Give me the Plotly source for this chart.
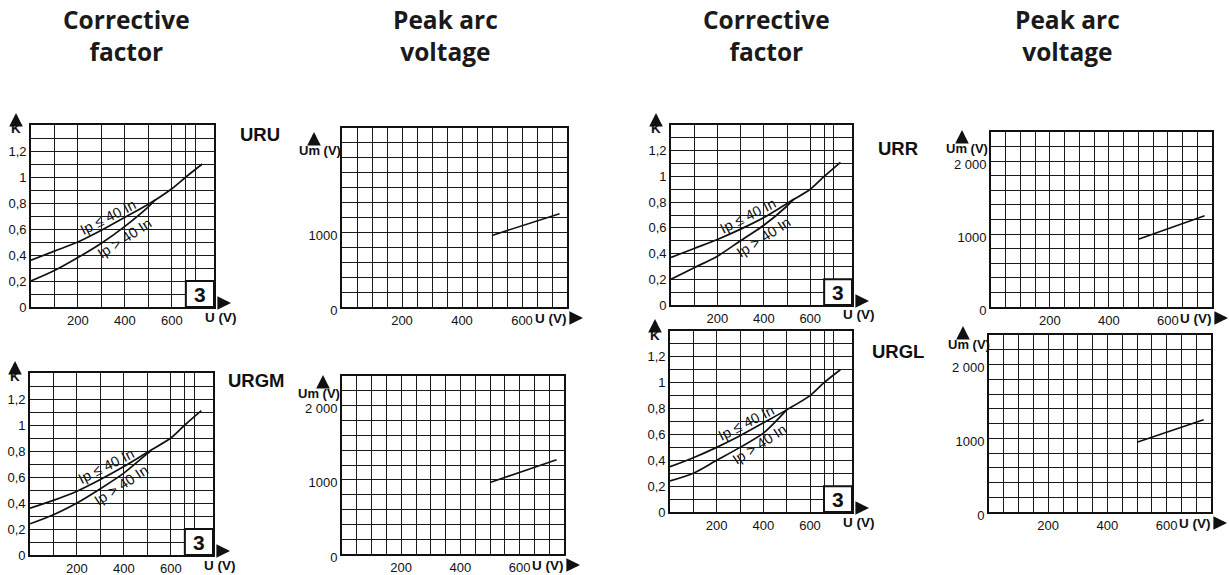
import plotly.graph_objects as go

W, H = 1229, 575

# ---------------- data ----------------
# Corrective factor K versus U (V)
k_u_le = [0, 100, 200, 300, 400, 500, 600, 660, 730]

uru_k_le = [0.36, 0.43, 0.50, 0.59, 0.69, 0.79, 0.91, 1.00, 1.10]
uru_u_gt = [0, 100, 200, 300, 400, 500, 530]
uru_k_gt = [0.20, 0.28, 0.38, 0.49, 0.62, 0.77, 0.825]

urgm_k_le = [0.36, 0.42, 0.49, 0.58, 0.68, 0.79, 0.90, 1.00, 1.11]
urgm_u_gt = [0, 100, 200, 300, 400, 500, 515]
urgm_k_gt = [0.24, 0.31, 0.40, 0.51, 0.63, 0.78, 0.80]

urr_k_le = [0.37, 0.44, 0.51, 0.59, 0.68, 0.79, 0.90, 1.00, 1.11]
urr_u_gt = [0, 100, 200, 300, 400, 500, 530]
urr_k_gt = [0.20, 0.29, 0.38, 0.50, 0.62, 0.77, 0.825]

urgl_k_le = [0.35, 0.42, 0.50, 0.59, 0.69, 0.79, 0.90, 1.00, 1.10]
urgl_u_gt = [0, 100, 200, 300, 400, 500]
urgl_k_gt = [0.24, 0.30, 0.40, 0.50, 0.61, 0.79]

# Peak arc voltage Um (V) versus U (V)
um_u = [500, 725]
uru_um = [960, 1250]
urgm_um = [965, 1270]
urr_um = [930, 1250]
urgl_um = [945, 1250]

# tick labels
k_tickvals = [0, 0.1, 0.2, 0.3, 0.4, 0.5, 0.6, 0.7, 0.8, 0.9, 1.0, 1.1, 1.2, 1.3]
k_ticktext = ["0", "", "0,2", "", "0,4", "", "0,6", "", "0,8", "", "1", "", "1,2", ""]
ku_tickvals = [0, 100, 200, 300, 400, 500, 600, 660, 700]
ku_ticktext = ["", "", "200", "", "400", "", "600", "", ""]
box_u = [660, 780]
box_k = [0, 0.2]
box_label = "3"

umx_tickvals = [0, 50, 100, 150, 200, 250, 300, 350, 400, 450, 500, 550, 600, 650, 700]
umx_ticktext = ["", "", "", "", "200", "", "", "", "400", "", "", "", "600", "", ""]
umy_tickvals = [0, 200, 400, 600, 800, 1000, 1200, 1400, 1600, 1800, 2000, 2200]
umy_ticktext_full = ["0", "", "", "", "", "1000", "", "", "", "", "2 000", ""]
umy_ticktext_short = ["0", "", "", "", "", "1000", "", "", "", "", "", ""]

label_le = "Ip ≤ 40 In"
label_gt = "Ip > 40 In"

# ---------------- layout helpers ----------------
def fx(p):
    return p / W


def fy(p):
    return 1 - p / H


GRID = "#1a1a1a"
TICKFONT = dict(family="Liberation Sans, Arial, sans-serif", size=13, color="#111")
BOLD = dict(family="Liberation Sans, Arial, sans-serif", size=13.5, color="#111", weight="bold")

fig = go.Figure()
annotations = []
shapes = []


def axis_common(domain, rng, tv, tt):
    return dict(
        domain=domain, range=rng, tickmode="array", tickvals=tv, ticktext=tt,
        showgrid=True, gridcolor=GRID, gridwidth=1.3, zeroline=False,
        showline=True, mirror=True, linecolor="#111", linewidth=1.8,
        ticks="", tickfont=TICKFONT, fixedrange=True, automargin=False,
    )


def up_arrow(x, y):
    annotations.append(dict(
        xref="paper", yref="paper", x=fx(x), y=fy(y - 4), ax=0, ay=9,
        text="", showarrow=True,
        arrowhead=2, arrowsize=0.8, arrowwidth=3.4, arrowcolor="#111"))


def right_arrow(x, y):
    annotations.append(dict(
        xref="paper", yref="paper", x=fx(x + 5), y=fy(y), ax=-9, ay=0,
        text="", showarrow=True,
        arrowhead=2, arrowsize=0.8, arrowwidth=3.4, arrowcolor="#111"))


def text(x, y, s, font, **kw):
    annotations.append(dict(xref="paper", yref="paper", x=fx(x), y=fy(y), text=s,
                            xanchor="center", yanchor="middle",
                            showarrow=False, font=font, **kw))


k_panels = [
    dict(name="URU", box=(31, 214, 125, 307), le=uru_k_le, ugt=uru_u_gt, kgt=uru_k_gt,
         lab=(260, 134), lpos_le=(330, 0.69), lpos_gt=(400, 0.53)),
    dict(name="URGM", box=(30, 213, 373, 555), le=urgm_k_le, ugt=urgm_u_gt, kgt=urgm_k_gt,
         lab=(256, 380), lpos_le=(325, 0.685), lpos_gt=(390, 0.535)),
    dict(name="URR", box=(671, 852, 125, 305), le=urr_k_le, ugt=urr_u_gt, kgt=urr_k_gt,
         lab=(898, 148), lpos_le=(330, 0.69), lpos_gt=(400, 0.53)),
    dict(name="URGL", box=(670, 852, 331, 512), le=urgl_k_le, ugt=urgl_u_gt, kgt=urgl_k_gt,
         lab=(898, 351), lpos_le=(325, 0.69), lpos_gt=(385, 0.525)),
]

um_panels = [
    dict(box=(342, 567, 128, 307), um=uru_um, tt=umy_ticktext_short, arrow=(314, 136), lab=(320, 150)),
    dict(box=(342, 564, 376, 554), um=urgm_um, tt=umy_ticktext_full, arrow=(323, 379), lab=(319, 393)),
    dict(box=(991, 1212, 132, 307), um=urr_um, tt=umy_ticktext_full, arrow=(962, 134), lab=(967, 148)),
    dict(box=(989, 1211, 335, 512), um=urgl_um, tt=umy_ticktext_full, arrow=(963, 330), lab=(969, 344)),
]

layout_axes = {}
n = 0
for p in k_panels:
    n += 1
    xs, ys = ("x" if n == 1 else f"x{n}"), ("y" if n == 1 else f"y{n}")
    l, r, t, b = p["box"]
    xa = axis_common([fx(l), fx(r)], [0, 780], ku_tickvals, ku_ticktext)
    ya = axis_common([fy(b), fy(t)], [0, 1.4], k_tickvals, k_ticktext)
    xa["anchor"] = ys
    ya["anchor"] = xs
    layout_axes["xaxis" if n == 1 else f"xaxis{n}"] = xa
    layout_axes["yaxis" if n == 1 else f"yaxis{n}"] = ya
    for ux, ky in ((k_u_le, p["le"]), (p["ugt"], p["kgt"])):
        fig.add_trace(go.Scatter(x=ux, y=ky, mode="lines", xaxis=xs, yaxis=ys,
                                 line=dict(color="#111", width=1.7, shape="spline", smoothing=0.8),
                                 showlegend=False, hoverinfo="skip"))
    shapes.append(dict(type="rect", xref=xs, yref=ys, x0=box_u[0], x1=box_u[1],
                       y0=box_k[0], y1=box_k[1], fillcolor="white",
                       line=dict(color="#111", width=2), layer="above"))
    annotations.append(dict(xref=xs, yref=ys, x=(box_u[0] + box_u[1]) / 2,
                            y=(box_k[0] + box_k[1]) / 2, text=box_label, showarrow=False,
                            xanchor="center", yanchor="middle",
                            font=dict(family="Liberation Sans, Arial", size=21, color="#111",
                                      weight="bold")))
    for (ux, ky), s, ang in ((p["lpos_le"], label_le, -27), (p["lpos_gt"], label_gt, -33)):
        annotations.append(dict(xref=xs, yref=ys, x=ux, y=ky, text=s, showarrow=False,
                                xanchor="center", yanchor="middle",
                                textangle=ang, font=dict(family="Liberation Sans, Arial",
                                                         size=14.5, color="#111")))
    # axis names
    up_arrow(l - 15, t - 8)
    text(l - 15, t + 4, "K", BOLD)
    right_arrow(r + 12, b - 4)
    text(r + 7, b + 10, "U (V)", BOLD)
    text(p["lab"][0], p["lab"][1], p["name"],
         dict(family="Liberation Sans, Arial", size=18.5, color="#111", weight="bold"))

for p in um_panels:
    n += 1
    xs, ys = f"x{n}", f"y{n}"
    l, r, t, b = p["box"]
    xa = axis_common([fx(l), fx(r)], [0, 750], umx_tickvals, umx_ticktext)
    ya = axis_common([fy(b), fy(t)], [0, 2400], umy_tickvals, p["tt"])
    ya["ticklabelshift"] = 3
    xa["anchor"] = ys
    ya["anchor"] = xs
    layout_axes[f"xaxis{n}"] = xa
    layout_axes[f"yaxis{n}"] = ya
    fig.add_trace(go.Scatter(x=um_u, y=p["um"], mode="lines", xaxis=xs, yaxis=ys,
                             line=dict(color="#111", width=1.6),
                             showlegend=False, hoverinfo="skip"))
    up_arrow(p["arrow"][0], p["arrow"][1])
    text(p["lab"][0], p["lab"][1], "Um (V)",
         dict(family="Liberation Sans, Arial", size=13, color="#111", weight="bold"))
    text(r - 16, b + 11, "U (V)", BOLD)
    right_arrow(r + 11, b + 11)

# headings
TITLE = dict(family="Open Sans, sans-serif", size=24.5, color="#1a1a1a", weight=700)
for cx, s in ((126, "Corrective<br>factor"), (445, "Peak arc<br>voltage"),
              (766, "Corrective<br>factor"), (1067, "Peak arc<br>voltage")):
    text(cx, 36, s, TITLE)

fig.update_layout(
    width=W, height=H, margin=dict(l=0, r=0, t=0, b=0, autoexpand=False),
    paper_bgcolor="white", plot_bgcolor="white",
    annotations=annotations, shapes=shapes, showlegend=False,
    **layout_axes,
)

fig.write_html("out.html", config={"displayModeBar": False},
               post_script="document.body.style.margin='0';")
